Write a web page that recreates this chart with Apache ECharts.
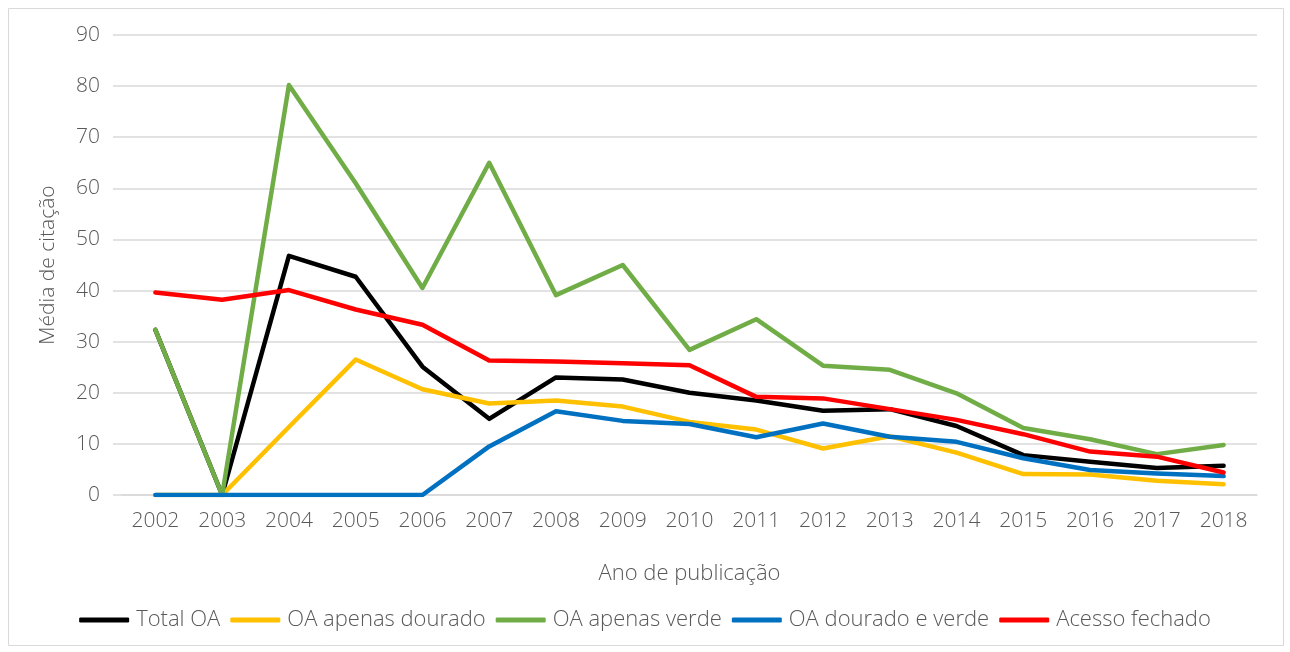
<!DOCTYPE html>
<html>
<head>
<meta charset="utf-8">
<script src="https://cdn.jsdelivr.net/npm/echarts@6/dist/echarts.min.js"></script>
<style>
html,body{margin:0;padding:0;background:#fff;}
#chart{width:1290px;height:652px;}
</style>
</head>
<body>
<div id="chart"></div>
<script>
const years = ['2002','2003','2004','2005','2006','2007','2008','2009','2010','2011','2012','2013','2014','2015','2016','2017','2018'];
const totalOA =      [32.3, 0, 46.8, 42.7, 25.1, 14.9, 23.0, 22.6, 20.0, 18.5, 16.5, 16.8, 13.5, 7.8, 6.5, 5.3, 5.7];
const apenasDourado =[0, 0, 13.3, 26.5, 20.7, 17.9, 18.5, 17.3, 14.3, 12.8, 9.1, 11.5, 8.3, 4.1, 4.0, 2.8, 2.1];
const apenasVerde =  [32.3, 0, 80.2, 61.0, 40.5, 65.0, 39.1, 45.0, 28.4, 34.4, 25.3, 24.5, 19.9, 13.1, 10.9, 8.0, 9.8];
const douradoVerde = [0, 0, 0, 0, 0, 9.5, 16.4, 14.5, 13.9, 11.3, 14.0, 11.4, 10.4, 7.2, 4.9, 4.2, 3.7];
const acessoFechado =[39.6, 38.2, 40.1, 36.3, 33.3, 26.3, 26.1, 25.8, 25.4, 19.2, 18.9, 16.8, 14.7, 11.9, 8.5, 7.5, 4.4];
const seriesNames = ['Total OA','OA apenas dourado','OA apenas verde','OA dourado e verde','Acesso fechado'];
const seriesData = [totalOA, apenasDourado, apenasVerde, douradoVerde, acessoFechado];
const colors = ['#000000','#FFC000','#70AD47','#0070C0','#FF0000'];

const FONT = '"Open Sans", sans-serif';
const TXT = '#595959';
const chart = echarts.init(document.getElementById('chart'), null, {renderer:'canvas'});
chart.setOption({
  animation:false,
  color: colors,
  graphic:[{type:'rect', shape:{x:8.5,y:8.5,width:1275,height:637}, style:{fill:'none', stroke:'#d9d9d9', lineWidth:1}, silent:true}],
  grid:{left:122, right:33, top:35, bottom:157, containLabel:false},
  legend:{
    bottom:16, left:'center',
    icon:'roundRect', itemWidth:50, itemHeight:5, itemGap:10,
    textStyle:{fontFamily:FONT, fontWeight:300, fontSize:22, color:TXT, padding:[0,0,0,2]},
    data: seriesNames
  },
  xAxis:{
    type:'category', data:years, boundaryGap:true,
    name:'Ano de publicação', nameLocation:'middle', nameGap:68,
    nameTextStyle:{fontFamily:FONT, fontWeight:300, fontSize:22, color:TXT},
    axisLine:{show:true, lineStyle:{color:'#d9d9d9', width:1.5}},
    axisTick:{show:false},
    axisLabel:{fontFamily:FONT, fontWeight:300, fontSize:21, color:TXT, margin:16}
  },
  yAxis:{
    type:'value', min:0, max:90, interval:10,
    name:'Média de citação', nameLocation:'middle', nameGap:63,
    nameTextStyle:{fontFamily:FONT, fontWeight:300, fontSize:21, color:TXT},
    axisLine:{show:false},
    axisTick:{show:true, length:9, lineStyle:{color:'#d9d9d9', width:1.5}},
    axisLabel:{fontFamily:FONT, fontWeight:300, fontSize:21, color:TXT, margin:22},
    splitLine:{lineStyle:{color:'#d9d9d9', width:1.5}}
  },
  series: seriesNames.map((n,i)=>({
    name:n, type:'line', data:seriesData[i],
    symbol:'none', lineStyle:{width:4.5, color:colors[i], cap:'round', join:'round'},
    itemStyle:{color:colors[i]}
  }))
});
</script>
</body>
</html>
